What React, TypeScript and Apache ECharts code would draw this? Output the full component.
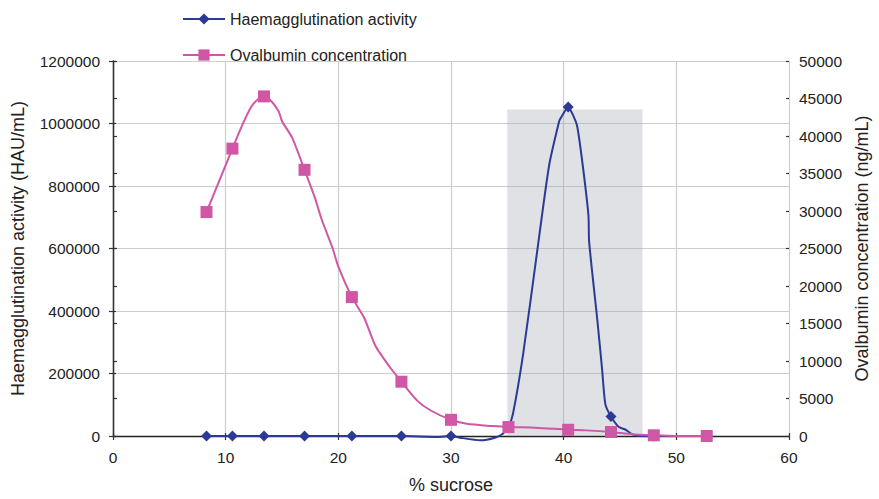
import React, { useEffect, useRef } from "react";
import * as echarts from "echarts";

// Haemagglutination activity (HAU/mL), left axis
const haemX = [8.3, 10.6, 13.4, 17.0, 21.2, 25.6, 28.8, 30.0, 30.8, 32.6, 33.9, 34.6, 35.1, 35.5, 36.4, 37.6, 38.7, 39.6, 39.75, 40.4, 40.8, 41.2, 41.7, 42.2, 42.26, 43.0, 43.4, 43.7, 44.2, 44.9, 45.5, 46.1, 46.9, 48.0, 52.7];
const haemY = [0, 0, 0, 0, 0, 0, -3000, 0, -5400, -13700, -5400, 7400, 28600, 71000, 261000, 578000, 864000, 1007000, 1018000, 1053000, 1029000, 991000, 864000, 705000, 621000, 367000, 218000, 102000, 62500, 28600, 20000, 5400, 0, 0, 0];
const haemMarked = [1, 1, 1, 1, 1, 1, 0, 1, 0, 0, 0, 0, 1, 0, 0, 0, 0, 0, 0, 1, 0, 0, 0, 0, 0, 0, 0, 0, 1, 0, 0, 0, 0, 1, 1];

// Ovalbumin concentration (ng/mL), right axis
const ovaX = [8.3, 10.6, 11.5, 12.3, 12.9, 13.4, 13.8, 14.7, 15.0, 15.9, 17.0, 17.9, 18.5, 19.5, 20.0, 21.2, 22.3, 23.3, 24.6, 25.6, 27.0, 28.2, 30.0, 31.4, 33.7, 35.1, 37.5, 40.4, 42.0, 44.2, 46.1, 48.0, 49.9, 52.7];
const ovaY = [29860, 38320, 41540, 43960, 44930, 45280, 45070, 43300, 41970, 39780, 35490, 31850, 28970, 25000, 22580, 18520, 15740, 12000, 9130, 7240, 4720, 3400, 2160, 1630, 1320, 1190, 1100, 830, 750, 530, 225, 93, 0, 0];
const ovaMarked = [1, 1, 0, 0, 0, 1, 0, 0, 0, 0, 1, 0, 0, 0, 0, 1, 0, 0, 0, 1, 0, 0, 1, 0, 0, 1, 0, 1, 0, 1, 0, 1, 0, 1];

// Shaded fraction range (% sucrose) and its height (HAU/mL)
const shadeRange = [35, 47];
const shadeTop = 1045000;

const leftTicks = { min: 0, max: 1200000, interval: 200000 };
const rightTicks = { min: 0, max: 50000, interval: 5000 };
const xTicks = { min: 0, max: 60, interval: 10 };

const FONT = "'Liberation Sans', Arial, sans-serif";
const BLUE = "#2b3a95";
const MAGENTA = "#cf57a6";
const AXIS = "#333333";

function build(xs: number[], ys: number[], marked: number[]) {
  return xs.map((x, i) => (marked[i] ? [x, ys[i]] : { value: [x, ys[i]], symbol: "none" }));
}

export default function App() {
  const ref = useRef<HTMLDivElement>(null);
  useEffect(() => {
    document.documentElement.style.overflow = "hidden";
    document.body.style.margin = "0";
    document.body.style.overflow = "hidden";
    if (!ref.current) return;
    const chart = echarts.init(ref.current, undefined, { renderer: "svg" });
    const axisLine = { show: true, lineStyle: { color: AXIS, width: 1.3 } };
    const tickOut = { show: true, length: 4, lineStyle: { color: AXIS, width: 1.2 } };
    const tickIn = { show: true, inside: true, length: 3, lineStyle: { color: AXIS, width: 1.2 } };
    const labelStyle = { fontFamily: FONT, fontSize: 15.5, color: "#222", formatter: (v: number) => String(v) };
    const nameStyle = { fontFamily: FONT, fontSize: 18, color: "#222" };
    // tick-only twin axes, so that the tick marks cross the axis lines
    const twinY = (pos: string, t: any) => ({
      type: "value",
      ...t,
      position: pos,
      axisLine: { show: false },
      axisTick: tickIn,
      axisLabel: { show: false },
      splitLine: { show: false },
    });
    chart.setOption({
      animation: false,
      backgroundColor: "#ffffff",
      textStyle: { fontFamily: FONT },
      legend: {
        orient: "vertical",
        left: 182,
        top: 11,
        padding: 0,
        itemWidth: 42,
        itemHeight: 14,
        itemGap: 20,
        textStyle: { fontFamily: FONT, fontSize: 16, color: "#222" },
        data: ["Haemagglutination activity", "Ovalbumin concentration"],
      },
      grid: { left: 113, right: 84, top: 61, bottom: 60, containLabel: false },
      xAxis: [
        {
          type: "value",
          ...xTicks,
          name: "% sucrose",
          nameLocation: "middle",
          nameGap: 40,
          nameTextStyle: nameStyle,
          axisLine: { show: true, onZero: false, lineStyle: { color: "#222", width: 1.3 } },
          axisTick: tickOut,
          axisLabel: { ...labelStyle, margin: 13 },
          splitLine: { show: true, lineStyle: { color: "#cdcdcd", width: 1.2 } },
        },
        {
          type: "value",
          ...xTicks,
          position: "bottom",
          axisLine: { show: false, onZero: false },
          axisTick: tickIn,
          axisLabel: { show: false },
          splitLine: { show: false },
        },
      ],
      yAxis: [
        {
          type: "value",
          ...leftTicks,
          position: "left",
          name: "Haemagglutination activity (HAU/mL)",
          nameLocation: "middle",
          nameRotate: 90,
          nameGap: 86,
          nameTextStyle: nameStyle,
          axisLine,
          axisTick: tickOut,
          axisLabel: { ...labelStyle, margin: 13 },
          splitLine: { show: true, lineStyle: { color: "#cdcdcd", width: 1.2 } },
        },
        {
          type: "value",
          ...rightTicks,
          position: "right",
          name: "Ovalbumin concentration (ng/mL)",
          nameLocation: "middle",
          nameRotate: 90,
          nameGap: 62,
          nameTextStyle: nameStyle,
          axisLine,
          axisTick: tickOut,
          axisLabel: { ...labelStyle, margin: 10 },
          splitLine: { show: false },
        },
        twinY("left", leftTicks),
        twinY("right", rightTicks),
      ],
      series: [
        {
          name: "Haemagglutination activity",
          type: "line",
          yAxisIndex: 0,
          smooth: 0.2,
          clip: false,
          symbol: "diamond",
          symbolSize: 11,
          showAllSymbol: true,
          itemStyle: { color: BLUE },
          lineStyle: { color: BLUE, width: 2 },
          data: build(haemX, haemY, haemMarked),
          markArea: {
            silent: true,
            itemStyle: { color: "rgba(160,163,170,0.32)" },
            data: [[{ xAxis: shadeRange[0], yAxis: 0 }, { xAxis: shadeRange[1], yAxis: shadeTop }]],
          },
          z: 2,
        },
        {
          name: "Ovalbumin concentration",
          type: "line",
          yAxisIndex: 1,
          smooth: 0.2,
          clip: false,
          symbol: "rect",
          symbolSize: 12,
          showAllSymbol: true,
          itemStyle: { color: MAGENTA },
          lineStyle: { color: MAGENTA, width: 2 },
          data: build(ovaX, ovaY, ovaMarked),
          z: 3,
        },
      ],
    });
    return () => chart.dispose();
  }, []);
  return <div ref={ref} style={{ width: 879, height: 499, position: "absolute", left: 0, top: 0 }} />;
}
